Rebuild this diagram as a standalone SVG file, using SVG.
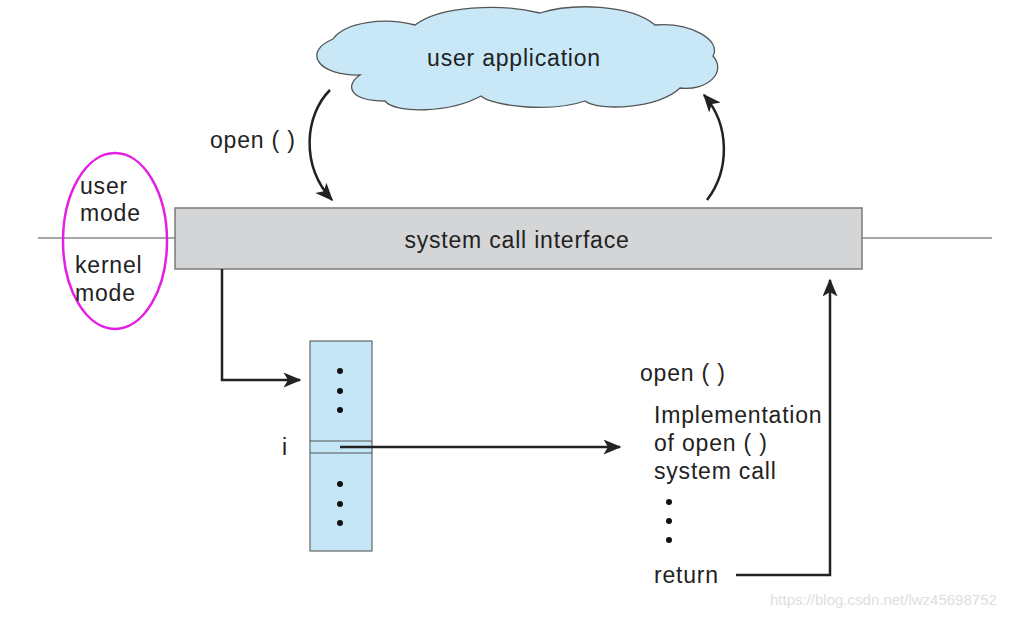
<svg xmlns="http://www.w3.org/2000/svg" width="1019" height="617" viewBox="0 0 1019 617">
<defs>
<style>
text{font-family:"Liberation Sans",Arial,sans-serif;fill:#222;}
.lbl{font-size:23px;letter-spacing:0.8px;}
.conn{fill:none;stroke:#222;stroke-width:2.5;}
.dot{fill:#111;}
</style>
<marker id="ahL" viewBox="0 0 12 10" refX="11" refY="5" markerWidth="19" markerHeight="15" markerUnits="userSpaceOnUse" orient="auto">
<path d="M0,0 L12,5 L0,10 L3,5 Z" fill="#222"/>
</marker>
</defs>
<rect width="1019" height="617" fill="#fff"/>

<g id="mode-line">
<line x1="38" y1="238" x2="175" y2="238" stroke="#888" stroke-width="1.5"/>
<line x1="862" y1="238" x2="992" y2="238" stroke="#888" stroke-width="1.5"/>
</g>

<g id="user-application">
<path d="M360,75 C318,76 302,52 333,39 C345,22 385,17 415,25 C440,6 500,3 540,13 C572,3 630,4 655,25 C690,22 722,40 713,56 C727,72 708,91 680,88 C660,108 600,112 585,101 C550,113 492,106 481,96 C450,113 395,114 385,101 C350,101 344,86 360,75 Z" fill="#c8e8f8" stroke="#555" stroke-width="1.3"/>
<text x="514" y="66" class="lbl" text-anchor="middle">user application</text>
</g>

<g id="system-call-interface">
<rect x="175" y="208" width="687" height="61" fill="#d4d5d7" stroke="#7a7a7a" stroke-width="1.5"/>
<text x="517" y="248" class="lbl" text-anchor="middle">system call interface</text>
</g>

<g id="mode-labels">
<ellipse cx="115" cy="241" rx="52" ry="88" fill="none" stroke="#e41ee4" stroke-width="2.5"/>
<text x="80" y="194" class="lbl">user</text>
<text x="80" y="221" class="lbl">mode</text>
<text x="75" y="273" class="lbl">kernel</text>
<text x="75" y="301" class="lbl">mode</text>
</g>

<g id="open-label">
<text x="210" y="148" class="lbl">open ( )</text>
</g>

<g id="syscall-table">
<rect x="310" y="341" width="62" height="210" fill="#c5e6f7" stroke="#666" stroke-width="1.2"/>
<line x1="310" y1="441" x2="372" y2="441" stroke="#555" stroke-width="1.2"/>
<line x1="310" y1="453" x2="372" y2="453" stroke="#555" stroke-width="1.2"/>
<circle class="dot" cx="340" cy="371" r="3"/>
<circle class="dot" cx="340" cy="391" r="3"/>
<circle class="dot" cx="340" cy="410" r="3"/>
<circle class="dot" cx="340" cy="484" r="3"/>
<circle class="dot" cx="340" cy="504" r="3"/>
<circle class="dot" cx="340" cy="523" r="3"/>
<text x="282" y="455" class="lbl">i</text>
</g>

<g id="open-implementation">
<text x="640" y="381" class="lbl">open ( )</text>
<text x="654" y="423" class="lbl">Implementation</text>
<text x="654" y="451" class="lbl">of open ( )</text>
<text x="654" y="479" class="lbl">system call</text>
<circle class="dot" cx="669" cy="502" r="3"/>
<circle class="dot" cx="669" cy="521" r="3"/>
<circle class="dot" cx="669" cy="540" r="3"/>
<text x="654" y="583" class="lbl">return</text>
</g>

<g id="connectors">
<path class="conn" d="M330,90 C305,115 300,165 332,200" marker-end="url(#ahL)"/>
<path class="conn" d="M707,200 C730,170 730,125 704,95" marker-end="url(#ahL)"/>
<path class="conn" d="M222,269 L222,380 L300,380" marker-end="url(#ahL)"/>
<path class="conn" d="M340,447 L620,447" marker-end="url(#ahL)"/>
<path class="conn" d="M736,575 L830,575 L830,280" marker-end="url(#ahL)"/>
</g>

<text x="770" y="605" font-size="15" style="fill:#dedede">https://blog.csdn.net/lwz45698752</text>
</svg>
